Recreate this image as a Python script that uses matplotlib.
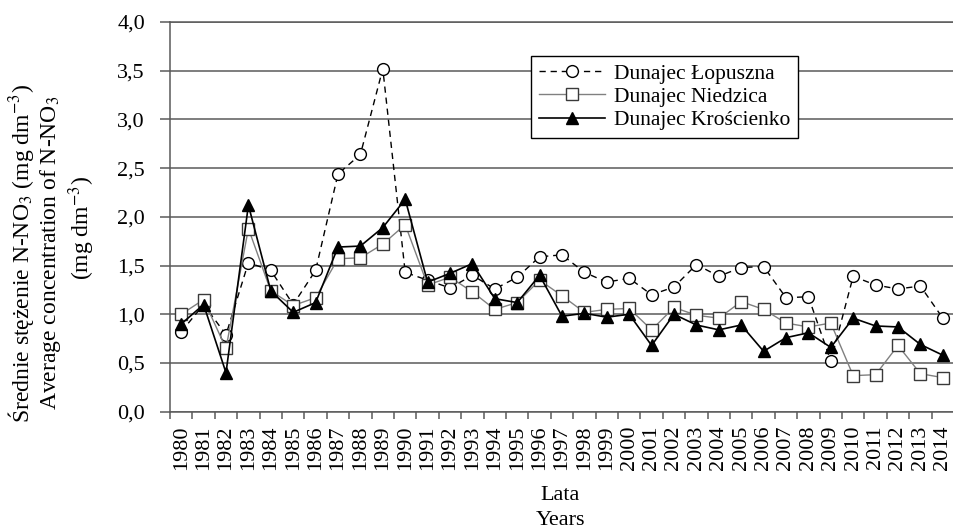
import numpy as np
import matplotlib
matplotlib.use("Agg")
from matplotlib import pyplot as plt

plt.rcParams['font.family'] = ['Liberation Serif', 'DejaVu Serif']
plt.rcParams['mathtext.fontset'] = 'stix'

years = list(range(1980, 2015))

lopuszna = [0.82, 1.10, 0.79, 1.53, 1.45, 1.10, 1.45, 2.44, 2.64, 3.52,
            1.43, 1.35, 1.27, 1.40, 1.26, 1.38, 1.59, 1.61, 1.43, 1.33,
            1.37, 1.20, 1.28, 1.51, 1.39, 1.48, 1.49, 1.17, 1.18, 0.52,
            1.39, 1.30, 1.26, 1.29, 0.96]
niedzica = [1.00, 1.15, 0.65, 1.88, 1.24, 1.09, 1.17, 1.57, 1.58, 1.72,
            1.92, 1.30, 1.38, 1.23, 1.05, 1.12, 1.35, 1.19, 1.02, 1.05,
            1.06, 0.84, 1.07, 0.99, 0.96, 1.13, 1.05, 0.91, 0.87, 0.91,
            0.37, 0.38, 0.68, 0.39, 0.35]
kroscienko = [0.90, 1.10, 0.40, 2.12, 1.24, 1.02, 1.12, 1.69, 1.70, 1.89,
              2.18, 1.33, 1.42, 1.52, 1.16, 1.12, 1.40, 0.98, 1.01, 0.97,
              1.00, 0.68, 1.00, 0.89, 0.84, 0.89, 0.62, 0.76, 0.81, 0.66,
              0.96, 0.88, 0.87, 0.69, 0.58]

labels = ['Dunajec Łopuszna', 'Dunajec Niedzica', 'Dunajec Krościenko']
yticks = [0.0, 0.5, 1.0, 1.5, 2.0, 2.5, 3.0, 3.5, 4.0]

gridc = '#5a5a5a'
fs = 16

fig = plt.figure(figsize=(9.54, 5.29), dpi=100)
ax = fig.add_axes([170/954, 1-411.7/529, (954-170)/954, (411.7-22)/529])

x = np.arange(len(years))
ax.plot(x, lopuszna, color='black', lw=1.0, dashes=(4.5, 3.5),
        marker='o', ms=8.5, mfc='white', mec='black', mew=1.0, label=labels[0])
ax.plot(x, niedzica, color='#808080', lw=1.0,
        marker='s', ms=8.5, mfc='white', mec='#3a3a3a', mew=1.0, label=labels[1])
ax.plot(x, kroscienko, color='black', lw=1.2,
        marker='^', ms=9, mfc='black', mec='black', mew=1.0, label=labels[2])

ax.set_xlim(-0.5, len(years) - 0.5)
ax.set_ylim(0, 4.0)

ax.set_yticks(yticks)
ax.set_yticklabels([f"{v:.1f}".replace('.', ',') for v in yticks], fontsize=fs)
ax.yaxis.grid(True, color=gridc, lw=1.1)
ax.set_axisbelow(True)
ax.tick_params(axis='y', direction='out', length=7, width=1.1, color=gridc, pad=11)

ax.set_xticks(x)
ax.set_xticklabels([str(y) for y in years], rotation=90, fontsize=fs)
ax.set_xticks(np.arange(-0.5, len(years)), minor=True)
ax.tick_params(axis='x', which='major', length=0, pad=10)
ax.tick_params(axis='x', which='minor', direction='out', length=5, width=1.1, color=gridc)

for s in ['left', 'bottom', 'top']:
    ax.spines[s].set_color(gridc)
    ax.spines[s].set_linewidth(1.1)
ax.spines['right'].set_visible(False)

leg = ax.legend(loc='upper left', bbox_to_anchor=(531/954, 1-56/529),
                bbox_transform=fig.transFigure, borderaxespad=0, fontsize=15.5,
                fancybox=False, framealpha=1, edgecolor='black',
                handlelength=3.1, handletextpad=0.4, labelspacing=0.15, borderpad=0.35)
leg.get_frame().set_linewidth(1.0)

yfs = 17
fig.text(21/954, 1-254/529, 'Średnie stężenie N-NO$_3$ (mg dm$^{-3}$)', rotation=90,
         ha='center', va='center', fontsize=yfs)
fig.text(51/954, 1-253/529, 'Average concentration of N-NO$_3$', rotation=90,
         ha='center', va='center', fontsize=yfs)
fig.text(82/954, 1-228/529, '(mg dm$^{-3}$)', rotation=90,
         ha='center', va='center', fontsize=yfs)

fig.text(560/954, 1-500/529, 'Lata', ha='center', va='baseline', fontsize=fs)
fig.text(560/954, 1-525/529, 'Years', ha='center', va='baseline', fontsize=fs)

fig.savefig('out.png', dpi=100)
